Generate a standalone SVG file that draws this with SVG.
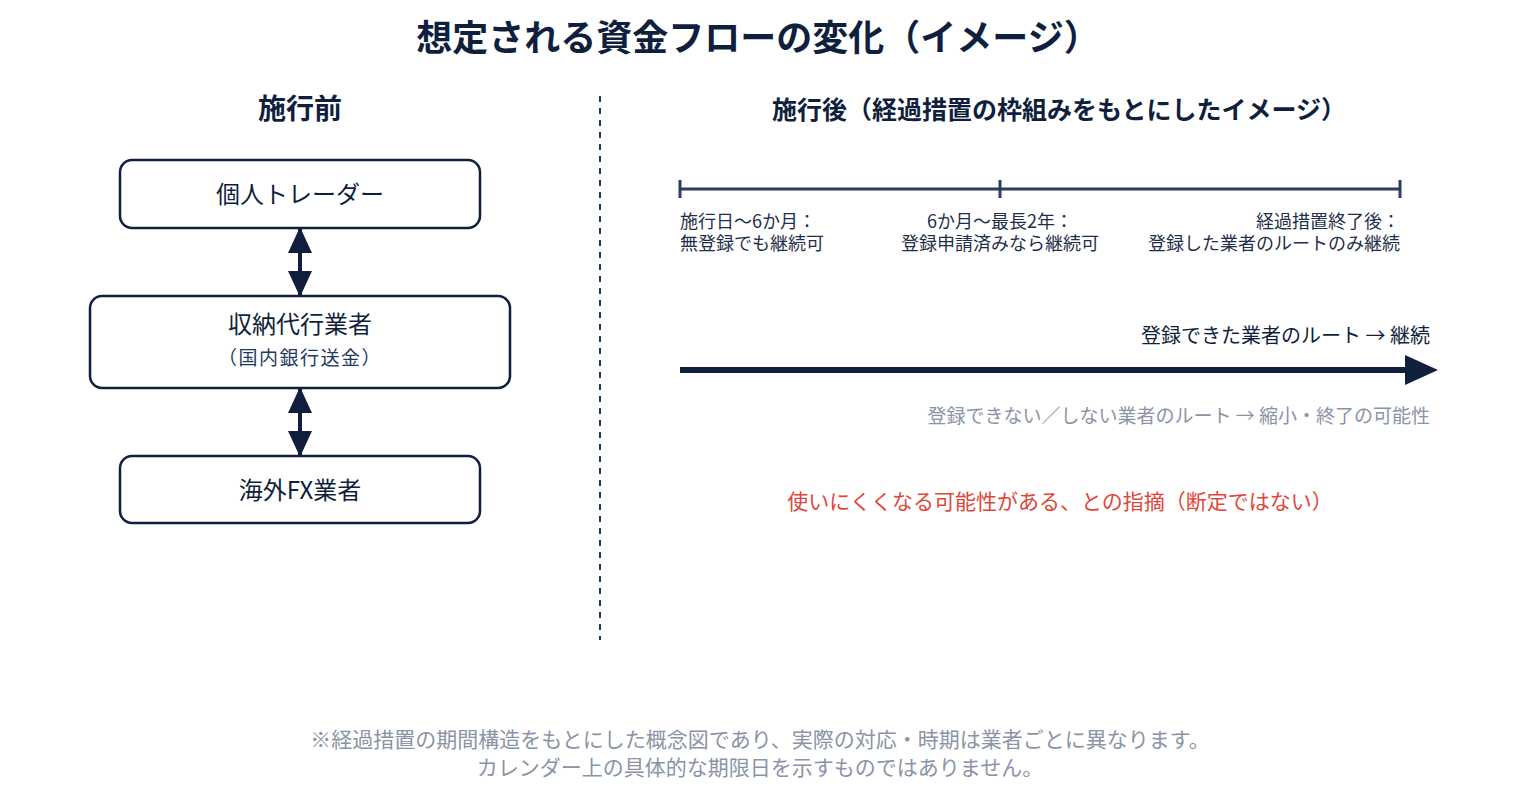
<svg xmlns="http://www.w3.org/2000/svg" width="1520" height="800" viewBox="0 0 1520 800">
<style>
text{font-family:"Noto Sans CJK JP","Noto Sans",sans-serif;}
.title{font-size:36px;font-weight:700;fill:#0f1f3d;text-anchor:middle;}
.head{font-weight:700;fill:#0f1f3d;text-anchor:middle;}
.box{fill:#fff;stroke:#0f1f3d;stroke-width:2.5;}
.node{font-size:24px;fill:#0f1f3d;text-anchor:middle;}
.sub{font-size:19px;fill:#1f3a5f;text-anchor:middle;letter-spacing:1.5px;}
.tl{font-size:18px;fill:#1f2f4a;}
.gray{fill:#8a94a6;}
.conn{stroke:#0f1f3d;stroke-width:4;fill:none;}
</style>
<defs>
<marker id="ah" viewBox="0 0 26 24" refX="24" refY="12" markerWidth="26" markerHeight="24" markerUnits="userSpaceOnUse" orient="auto-start-reverse">
<path d="M0,0 L26,12 L0,24 Z" fill="#0f1f3d"/>
</marker>
</defs>
<rect width="1520" height="800" fill="#fff"/>
<text class="title" x="758" y="51">想定される資金フローの変化（イメージ）</text>

<text class="head" x="300" y="119" font-size="28">施行前</text>
<text class="head" x="1059" y="119" font-size="25">施行後（経過措置の枠組みをもとにしたイメージ）</text>

<line x1="600" y1="96" x2="600" y2="640" stroke="#1f3a5f" stroke-width="2" stroke-dasharray="6 6"/>

<g id="node-trader">
<rect class="box" x="120" y="160" width="360" height="68" rx="12"/>
<text class="node" x="300" y="203">個人トレーダー</text>
</g>
<g id="node-agent">
<rect class="box" x="90" y="296" width="420" height="92" rx="12"/>
<text class="node" x="300" y="333">収納代行業者</text>
<text class="sub" x="300" y="365">（国内銀行送金）</text>
</g>
<g id="node-fx">
<rect class="box" x="120" y="456" width="360" height="67" rx="12"/>
<text class="node" x="300" y="499">海外FX業者</text>
</g>

<g id="connectors">
<line class="conn" x1="300" y1="229" x2="300" y2="295" marker-start="url(#ah)" marker-end="url(#ah)"/>
<line class="conn" x1="300" y1="389" x2="300" y2="455" marker-start="url(#ah)" marker-end="url(#ah)"/>
</g>

<g id="timeline">
<line x1="680" y1="189" x2="1400" y2="189" stroke="#2c3e5c" stroke-width="3"/>
<line x1="680" y1="180" x2="680" y2="198" stroke="#2c3e5c" stroke-width="3"/>
<line x1="1000" y1="180" x2="1000" y2="198" stroke="#2c3e5c" stroke-width="3"/>
<line x1="1400" y1="180" x2="1400" y2="198" stroke="#2c3e5c" stroke-width="3"/>
<text class="tl" x="680" y="228">施行日〜6か月：</text>
<text class="tl" x="680" y="250">無登録でも継続可</text>
<text class="tl" x="1000" y="228" text-anchor="middle">6か月〜最長2年：</text>
<text class="tl" x="1000" y="250" text-anchor="middle">登録申請済みなら継続可</text>
<text class="tl" x="1400" y="228" text-anchor="end">経過措置終了後：</text>
<text class="tl" x="1400" y="250" text-anchor="end">登録した業者のルートのみ継続</text>
</g>

<g id="route-arrow">
<text x="1430" y="343" font-size="20" fill="#0f1f3d" text-anchor="end">登録できた業者のルート → 継続</text>
<line x1="680" y1="370" x2="1408" y2="370" stroke="#0f1f3d" stroke-width="6"/>
<path d="M1405,355 L1438,370 L1405,385 Z" fill="#0f1f3d"/>
<text class="gray" x="1430" y="423" font-size="19" text-anchor="end">登録できない／しない業者のルート → 縮小・終了の可能性</text>
</g>

<text x="1060" y="509" font-size="21" fill="#e0463a" text-anchor="middle">使いにくくなる可能性がある、との指摘（断定ではない）</text>

<text class="gray" x="760" y="747" font-size="21" text-anchor="middle">※経過措置の期間構造をもとにした概念図であり、実際の対応・時期は業者ごとに異なります。</text>
<text class="gray" x="760" y="775" font-size="21" text-anchor="middle">カレンダー上の具体的な期限日を示すものではありません。</text>
</svg>
